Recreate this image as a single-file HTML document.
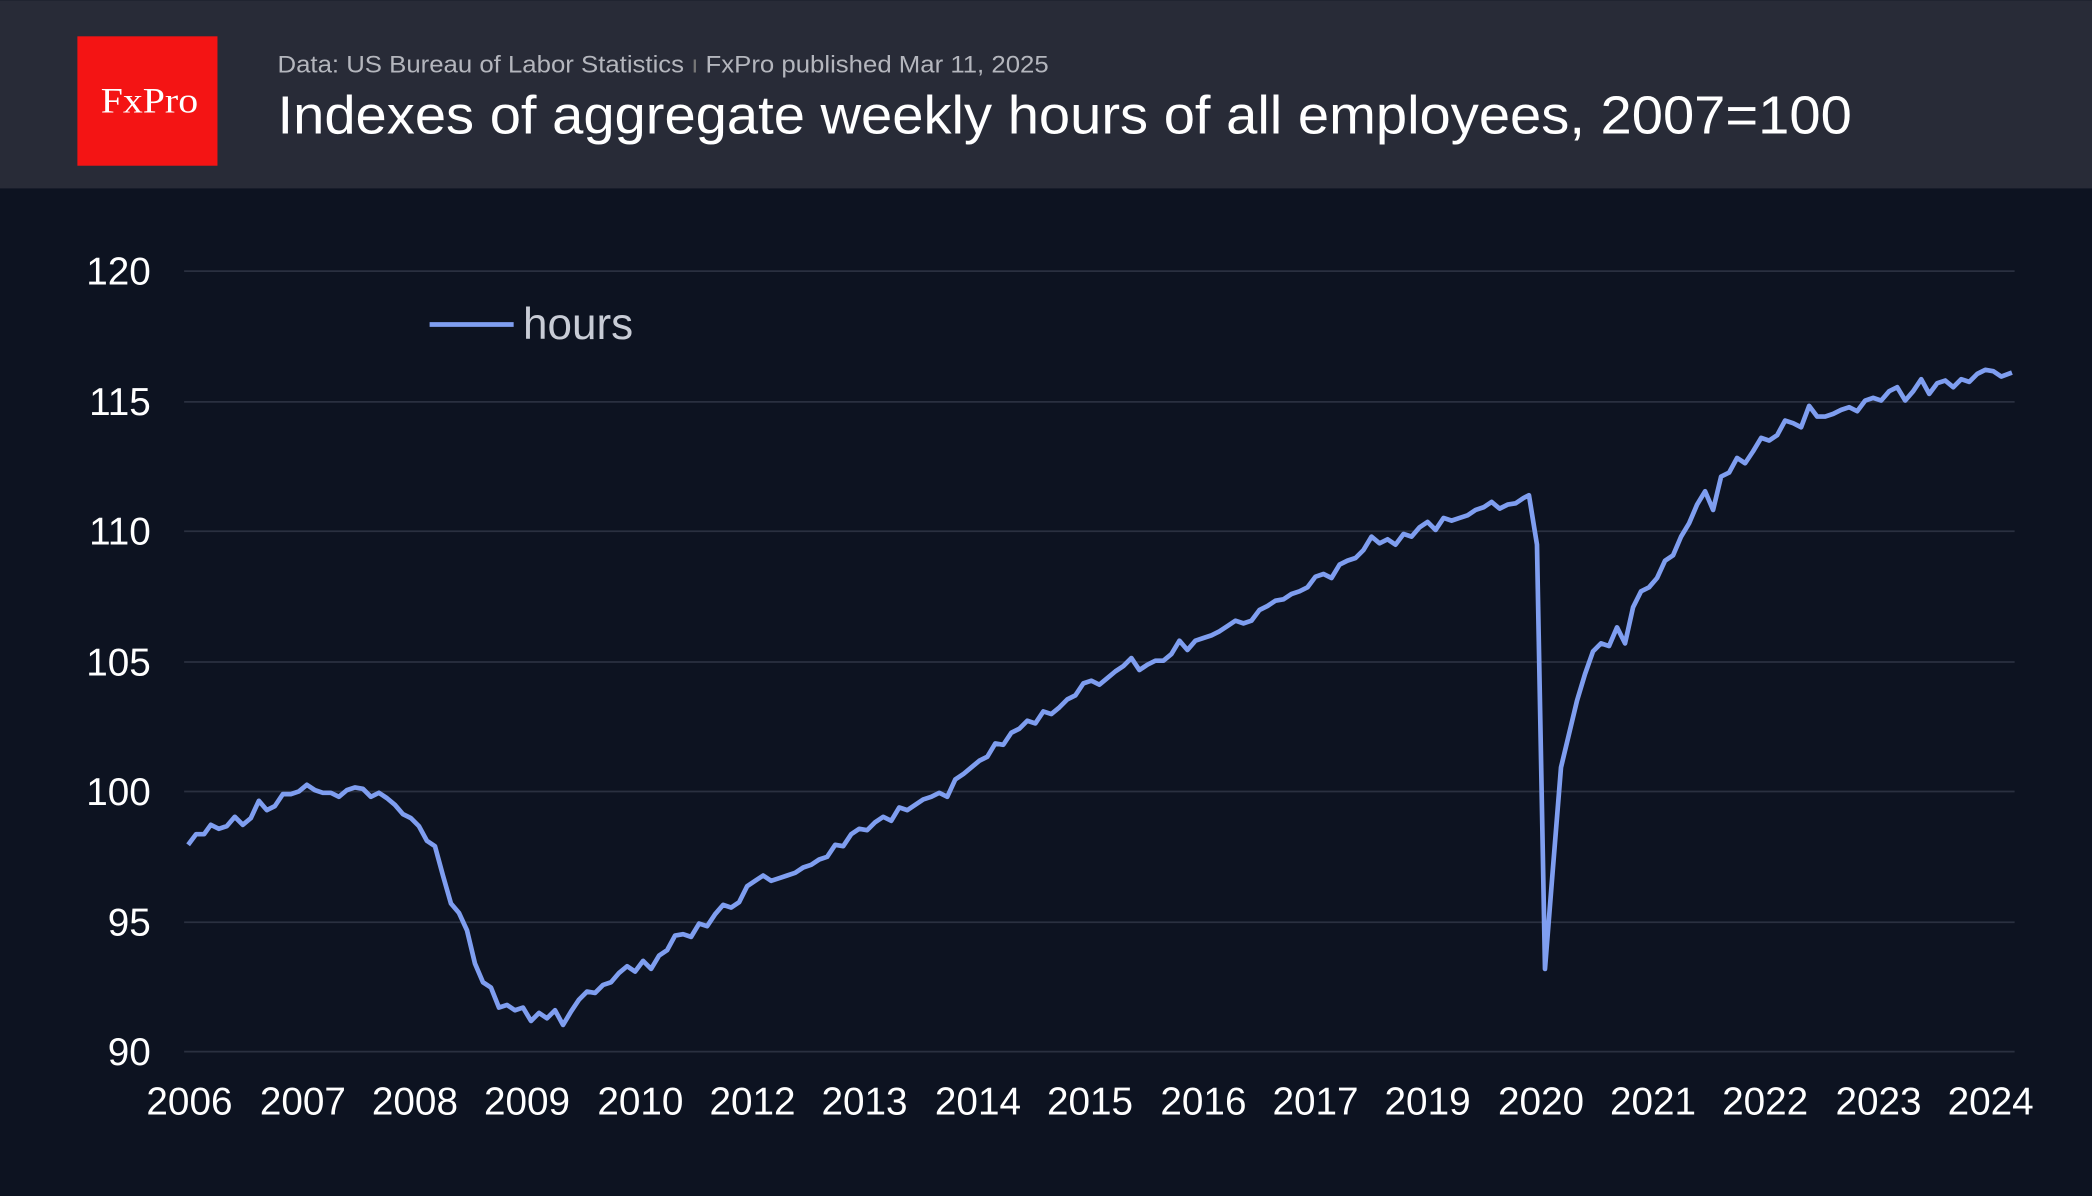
<!DOCTYPE html>
<html><head><meta charset="utf-8"><style>
html,body{margin:0;padding:0;background:#0d1321;}
svg{display:block}
</style></head><body>
<svg width="2092" height="1196" viewBox="0 0 1568 896" xmlns="http://www.w3.org/2000/svg" font-family="'Liberation Sans', sans-serif">
<rect width="1568" height="896" fill="#0d1321"/>
<rect width="1568" height="141" fill="#282b37"/>
<rect x="58" y="27" width="105" height="97" fill="#f41414"/>
<text x="112" y="84" text-anchor="middle" fill="#fff" font-family="'Liberation Serif', serif" font-size="27" textLength="73" lengthAdjust="spacingAndGlyphs">FxPro</text>
<text x="208" y="54" fill="#b4b6bd" font-size="18" textLength="578" lengthAdjust="spacingAndGlyphs">Data: US Bureau of Labor Statistics <tspan fill="#777">ı</tspan> FxPro published Mar 11, 2025</text>
<text x="208" y="100" fill="#fff" font-size="40" font-weight="500" textLength="1180" lengthAdjust="spacingAndGlyphs">Indexes of aggregate weekly hours of all employees, 2007=100</text>
<g stroke="#2a3040" stroke-width="1.3">
<line x1="138" x2="1510" y1="203" y2="203"/><line x1="138" x2="1510" y1="301" y2="301"/>
<line x1="138" x2="1510" y1="398" y2="398"/><line x1="138" x2="1510" y1="496" y2="496"/>
<line x1="138" x2="1510" y1="593" y2="593"/><line x1="138" x2="1510" y1="691" y2="691"/>
<line x1="138" x2="1510" y1="788" y2="788"/>
</g>
<g fill="#fff" font-size="29" text-anchor="end">
<text x="113" y="213">120</text><text x="113" y="311">115</text><text x="113" y="408">110</text>
<text x="113" y="506">105</text><text x="113" y="603">100</text><text x="113" y="701">95</text><text x="113" y="798">90</text>
</g>
<g fill="#fff" font-size="29" text-anchor="middle">
<text x="142" y="835">2006</text><text x="227" y="835">2007</text><text x="311" y="835">2008</text>
<text x="395" y="835">2009</text><text x="480" y="835">2010</text><text x="564" y="835">2012</text>
<text x="648" y="835">2013</text><text x="733" y="835">2014</text><text x="817" y="835">2015</text>
<text x="902" y="835">2016</text><text x="986" y="835">2017</text><text x="1070" y="835">2019</text>
<text x="1155" y="835">2020</text><text x="1239" y="835">2021</text><text x="1323" y="835">2022</text>
<text x="1408" y="835">2023</text><text x="1492" y="835">2024</text>
</g>
<line x1="322" x2="385" y1="243" y2="243" stroke="#7f9ef0" stroke-width="3.5"/>
<text x="392" y="254" fill="#c8ccd6" font-size="33">hours</text>
<polyline fill="none" stroke="#7f9ef0" stroke-width="3.5" stroke-linejoin="round" points="141,633 147,625 153,625 158,618 164,621 170,619 176,612 182,618 188,613 194,600 200,607 206,604 212,595 218,595 224,593 230,588 236,592 242,594 248,594 254,597 260,592 266,590 272,591 278,597 284,594 290,598 296,603 302,610 308,613 314,619 320,630 326,634 332,656 338,677 344,684 350,697 356,722 362,736 368,740 374,755 380,753 386,757 392,755 398,765 404,759 410,763 416,757 422,768 428,758 434,749 440,743 446,744 452,738 458,736 464,729 470,724 476,728 482,720 488,726 494,716 500,712 506,701 512,700 518,702 524,692 530,694 536,685 542,678 548,680 554,676 560,664 566,660 572,656 578,660 584,658 590,656 596,654 602,650 608,648 614,644 620,642 626,633 632,634 638,625 644,621 650,622 656,616 662,612 668,615 674,605 680,607 686,603 692,599 698,597 704,594 710,597 716,584 722,580 728,575 734,570 740,567 746,557 752,558 758,549 764,546 770,540 776,542 782,533 788,535 794,530 800,524 806,521 812,512 818,510 824,513 830,508 836,503 842,499 848,493 854,502 860,498 866,495 872,495 878,490 884,480 890,487 896,480 902,478 908,476 914,473 920,469 926,465 932,467 938,465 944,457 950,454 956,450 962,449 968,445 974,443 980,440 986,432 992,430 998,433 1004,423 1010,420 1016,418 1022,412 1028,402 1034,407 1040,404 1046,408 1052,400 1058,402 1064,395 1070,391 1076,397 1082,388 1088,390 1094,388 1100,386 1106,382 1112,380 1118,376 1124,381 1130,378 1136,377 1142,373 1146,371 1152,408 1158,726 1164,650 1170,575 1176,550 1182,525 1188,505 1194,488 1200,482 1206,484 1212,470 1218,482 1224,455 1230,443 1236,440 1242,433 1248,420 1254,416 1260,402 1266,392 1272,378 1278,368 1284,382 1290,357 1296,354 1302,343 1308,347 1314,338 1320,328 1326,330 1332,326 1338,315 1344,317 1350,320 1356,304 1362,312 1368,312 1374,310 1380,307 1386,305 1392,308 1398,300 1404,298 1410,300 1416,293 1422,290 1428,300 1434,293 1440,284 1446,295 1452,287 1458,285 1464,290 1470,284 1476,286 1482,280 1488,277 1494,278 1500,282 1508,279"/>
</svg>
</body></html>
